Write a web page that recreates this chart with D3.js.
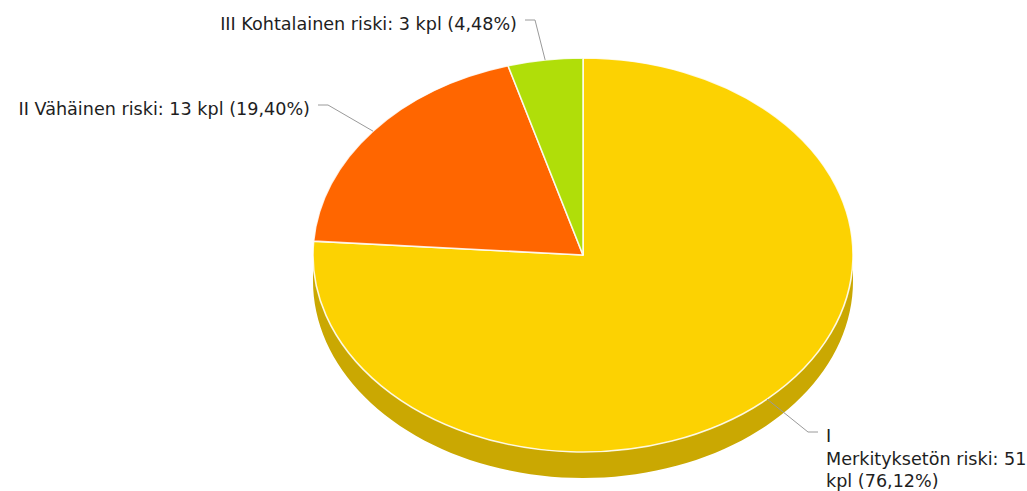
<!DOCTYPE html>
<html><head><meta charset="utf-8">
<script src="https://cdn.jsdelivr.net/npm/d3@7"></script>
<style>body{margin:0;background:#fff;overflow:hidden} text{font-family:"DejaVu Sans",sans-serif;}</style>
</head><body><svg id="c" width="1027" height="491"></svg>
<script>
// ---- data ----
const categories = ["I\nMerkityksetön riski", "II Vähäinen riski", "III Kohtalainen riski"];
const values = [51, 13, 3];
const colors = ["#FCD202", "#FF6600", "#B0DE09"];
const unit = "kpl";

// ---- layout ----
const cx = 583, cy = 255, rx = 270, ry = 197, depth = 26;
const labelAnchors = [ {x: 818, y: 432, side: "right"}, {x: 318, y: 105, side: "left"}, {x: 525, y: 20, side: "left"} ];
const fontSize = 17.6, lineH = 22.5;

const svg = d3.select("#c");
const total = d3.sum(values);
const data = categories.map((c, i) => ({cat: c, value: values[i], color: colors[i], i}));
const pie = d3.pie().sort(null).value(d => d.value).startAngle(0).endAngle(2 * Math.PI);
const arcs = pie(data);

const px = a => cx + rx * Math.sin(a);
const py = (a, off = 0) => cy - ry * Math.cos(a) + off;

function darker(c, f) { const r = d3.rgb(c); return d3.rgb(r.r * f, r.g * f, r.b * f).formatHex(); }

// side walls (front half: angles PI/2 .. 3PI/2)
const sides = svg.append("g");
arcs.forEach(a => {
  const s = Math.max(a.startAngle, Math.PI / 2), e = Math.min(a.endAngle, 3 * Math.PI / 2);
  if (e <= s) return;
  const n = 80;
  const angs = d3.range(n + 1).map(k => s + (e - s) * k / n);
  const pts = angs.map(t => [px(t), py(t)]).concat(angs.slice().reverse().map(t => [px(t), py(t, depth)]));
  sides.append("path").attr("d", d3.line()(pts) + "Z")
    .attr("fill", darker(a.data.color, 0.8));
});

// top surface
const arcGen = d3.arc().innerRadius(0).outerRadius(rx);
svg.append("g").attr("transform", `translate(${cx},${cy}) scale(1,${ry / rx})`)
  .selectAll("path").data(arcs).join("path")
  .attr("d", arcGen).attr("fill", d => d.data.color)
  .attr("stroke", "#fff").attr("stroke-opacity", 0.85).attr("stroke-width", 1.6)
  .attr("vector-effect", "non-scaling-stroke").attr("stroke-linejoin", "round");

// labels
const fmt = v => (v * 100 / total).toFixed(2).replace(".", ",");
const lg = svg.append("g");
arcs.forEach((a, i) => {
  const mid = (a.startAngle + a.endAngle) / 2;
  const L = labelAnchors[i];
  const dir = L.side === "right" ? 1 : -1;
  const pts = [[px(mid), py(mid)], [L.x - dir * 10, L.y], [L.x, L.y]];
  lg.append("path").attr("d", d3.line()(pts)).attr("fill", "none").attr("stroke", "#9a9a9a").attr("stroke-width", 1);
  const full = `${a.data.cat}: ${a.data.value} ${unit} (${fmt(a.data.value)}%)`;
  const tx = L.x + dir * 8;
  const t = lg.append("text").attr("x", tx).attr("y", L.y + 10)
    .attr("font-size", fontSize).attr("fill", "#1e1e1e")
    .attr("text-anchor", L.side === "right" ? "start" : "end");
  const maxW = L.side === "right" ? 1027 - tx + 2 : tx - 4;
  const lines = [];
  full.split("\n").forEach(par => {
    const words = par.split(" ");
    let cur = "";
    words.forEach(w => {
      const test = cur ? cur + " " + w : w;
      const probe = t.append("tspan").text(test);
      const wdt = probe.node().getComputedTextLength();
      probe.remove();
      if (wdt > maxW && cur) { lines.push(cur); cur = w; } else cur = test;
    });
    lines.push(cur);
  });
  lines.forEach((ln, k) => t.append("tspan").attr("x", tx).attr("dy", k ? lineH : 0).text(ln));
});
</script></body></html>
